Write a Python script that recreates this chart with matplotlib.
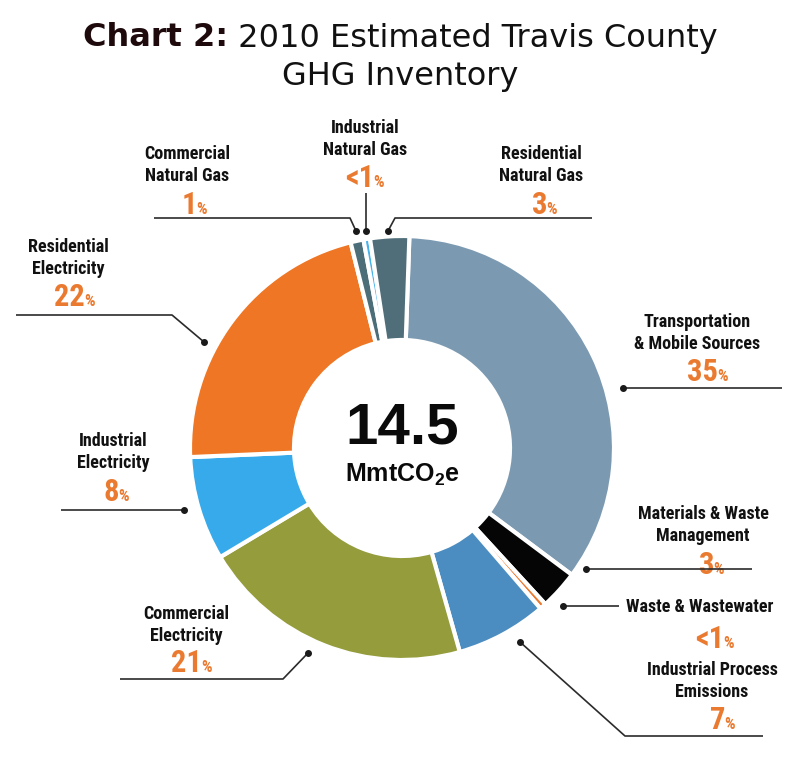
import matplotlib
matplotlib.use('Agg')
import matplotlib.pyplot as plt

# ---------------- data ----------------
categories = ['Transportation\n& Mobile Sources', 'Materials & Waste\nManagement',
              'Waste & Wastewater', 'Industrial Process\nEmissions',
              'Commercial\nElectricity', 'Industrial\nElectricity',
              'Residential\nElectricity', 'Commercial\nNatural Gas',
              'Industrial\nNatural Gas', 'Residential\nNatural Gas']
values = [35, 3, 0.5, 7, 21, 8, 22, 1, 0.5, 3]
pct_labels = ['35', '3', '<1', '7', '21', '8', '22', '1', '<1', '3']
colors = ['#7b9ab1', '#050505', '#ec7a2e', '#4b8dc0', '#949c3c',
          '#36aaea', '#ee7624', '#4c6e79', '#45b3ec', '#4f6e79']
total_value = '14.5'
total_unit = 'MmtCO$_2$e'

# ---------------- layout (pixels from top-left) ----------------
W, H = 800, 770
name_pos = [(697, 322), (703, 514), (700, 607), (712, 670), (186, 614),
            (113, 441), (68, 247), (187, 154), (365, 128), (541, 154)]
pct_pos = [(708, 372), (712, 565), (715, 639), (723, 720), (192, 663),
           (117, 492), (75, 297), (195, 205), (365, 178), (545, 205)]
leaders = [
    [(623, 388), (782, 388)],
    [(586, 569), (752, 569)],
    [(563, 606), (619, 606)],
    [(520, 642), (625, 736), (763, 736)],
    [(308, 653), (283, 679), (120, 679)],
    [(184, 510), (61, 510)],
    [(204, 342), (172, 315), (16, 315)],
    [(356, 231), (350, 218), (154, 218)],
    [(366, 231), (366, 193)],
    [(388, 231), (395, 218), (592, 218)],
]

label_font = ['Liberation Sans Narrow', 'Roboto Condensed', 'DejaVu Sans']
orange = '#ea7a30'

def Y(py):
    return H - py

fig = plt.figure(figsize=(8, 7.7), dpi=100)
ax = fig.add_axes([0, 0, 1, 1])

# donut
ax.pie(values, colors=colors, startangle=88, counterclock=False,
       center=(402, Y(448)), radius=212, frame=True,
       wedgeprops=dict(width=104, edgecolor='white', linewidth=3))
ax.set_xlim(0, W)
ax.set_ylim(0, H)
ax.set_aspect('equal')
ax.axis('off')

# centre total
ax.text(402, Y(428), total_value, ha='center', va='center', fontsize=42,
        fontweight='bold', family='Liberation Sans', color='#0a0a0a')
plt.rcParams['mathtext.fontset'] = 'custom'
plt.rcParams['mathtext.rm'] = 'Liberation Sans:bold'
ax.text(402, Y(475), total_unit, ha='center', va='center', fontsize=18,
        fontweight='bold', family='Liberation Sans', color='#0a0a0a')

fig.canvas.draw()
renderer = fig.canvas.get_renderer()

# category names, percentages and leader lines
for name, (nx, ny), pct, (px, py), pts in zip(categories, name_pos, pct_labels,
                                                pct_pos, leaders):
    for i, line in enumerate(name.split('\n')):
        ax.text(nx, Y(ny + 22 * i), line, ha='center', va='center', fontsize=13,
                fontweight='bold', family=label_font, color='#111111')
    t_num = ax.text(px, Y(py), pct, ha='left', va='baseline', fontsize=22,
                    fontweight='bold', family=label_font, color=orange)
    t_pc = ax.text(px, Y(py), '%', ha='left', va='baseline', fontsize=12,
                   fontweight='bold', family=label_font, color=orange)
    w1 = t_num.get_window_extent(renderer).width
    w2 = t_pc.get_window_extent(renderer).width
    x0 = px - (w1 + w2) / 2
    t_num.set_position((x0, Y(py + 9)))
    t_pc.set_position((x0 + w1 - 1, Y(py + 9)))
    xs = [p[0] for p in pts]
    ys = [Y(p[1]) for p in pts]
    ax.plot(xs, ys, color='#2b2b2b', lw=1.2, zorder=5, solid_capstyle='butt')
    ax.plot(xs[0], ys[0], 'o', color='#1a1a1a', ms=4, zorder=6)

# title
t1 = fig.text(0, 0, 'Chart 2:', fontsize=23, fontweight='bold',
              family='DejaVu Sans', color='#1e0a0c', va='center')
t2 = fig.text(0, 0, ' 2010 Estimated Travis County', fontsize=23,
              family='DejaVu Sans', color='#111111', va='center')
w1 = t1.get_window_extent(renderer).width
w2 = t2.get_window_extent(renderer).width
x0 = (W - (w1 + w2)) / 2
t1.set_position((x0 / W, Y(38) / H))
t2.set_position(((x0 + w1) / W, Y(38) / H))
fig.text(0.5, Y(76) / H, 'GHG Inventory', fontsize=23, ha='center', va='center',
         family='DejaVu Sans', color='#111111')

plt.savefig('out.png', dpi=100, facecolor='white')
